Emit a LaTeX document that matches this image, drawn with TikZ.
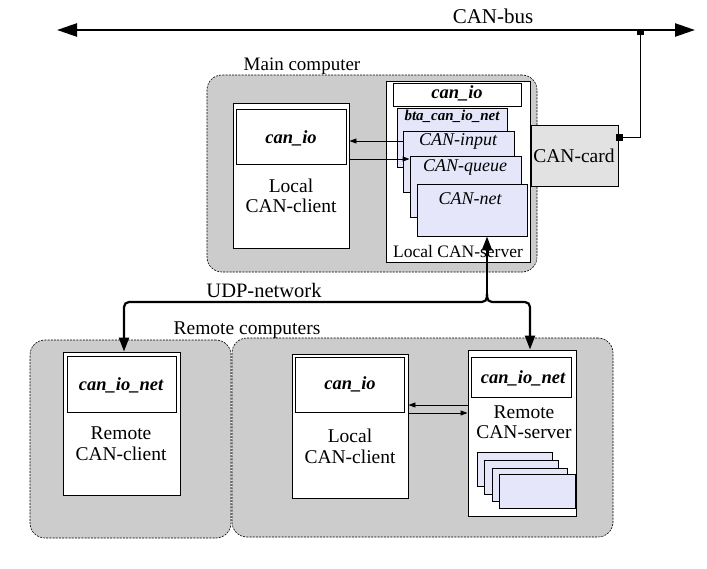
\documentclass[tikz,border=0pt]{standalone}
\usepackage{fontspec}
\setmainfont{Liberation Serif}
\usetikzlibrary{arrows.meta,fit}
\definecolor{lav}{RGB}{230,230,250}
\definecolor{compgray}{RGB}{204,204,204}
\definecolor{cardgray}{RGB}{226,226,226}
\begin{document}
\begin{tikzpicture}[x=1pt,y=-1pt,
  comp/.style={draw, line width=0.6pt, dash pattern=on 2pt off 1.2pt, fill=compgray, rounded corners=15pt, inner sep=0pt},
  box/.style={draw, line width=0.9pt, fill=white, inner sep=0pt},
  lavbox/.style={box, fill=lav},
  cardbox/.style={box, fill=cardgray},
  lbl/.style={inner sep=0pt, anchor=base, font=\fontsize{19.5}{22}\selectfont},
  mod/.style={lbl, font=\fontsize{18.5}{21}\selectfont\bfseries\itshape},
  smod/.style={lbl, font=\fontsize{15}{17}\selectfont\bfseries\itshape},
  sub/.style={lbl, font=\fontsize{18}{21}\selectfont\itshape},
  srv/.style={lbl, font=\fontsize{17.5}{20}\selectfont},
  busline/.style={line width=2.4pt, {Triangle[length=20pt,width=13pt]}-{Triangle[length=20pt,width=13pt]}},
  udp/.style={line width=2.2pt, rounded corners=5pt},
  udparrow/.style={-{Triangle[length=14pt,width=10pt]}},
  conn/.style={line width=0.9pt, -{Triangle[length=7pt,width=5pt]}},
  cardconn/.style={line width=0.9pt, {Square[length=6pt,width=7pt]}-{Square[length=6pt,width=7pt]}}
]
\useasboundingbox (0,0) rectangle (707,568);
\fill[white] (0,0) rectangle (707,568);

% CAN bus
\coordinate (busL) at (57,30);
\coordinate (busR) at (695,30);
\draw[busline] (busL) -- (busR);
\node[lbl, font=\fontsize{21}{24}\selectfont] (busLabel) at (493,23) {CAN-bus};

% Main computer
\node[comp, fit={(207,75) (537,272)}] (main) {};
\node[lbl, font=\fontsize{19}{22}\selectfont] (mainLabel) at (302,70) {Main computer};

\node[box, fit={(233,103) (349,248)}] (lc) {};
\node[box, fit={(236,109) (346,164)}] (lcio) {};
\node[mod] (lcioT) at (291,143) {can\_io};
\node[lbl] (lcT1) at (291,192) {Local};
\node[lbl] (lcT2) at (291,212) {CAN-client};

\node[box, fit={(386,81) (530,262)}] (ls) {};
\node[box, fit={(393,83) (521,106)}] (lsio) {};
\node[mod] (lsioT) at (457,98) {can\_io};
\node[lavbox, fit={(397,108) (507,167)}] (bta) {};
\node[smod] (btaT) at (452,120) {bta\_can\_io\_net};
\node[lavbox, fit={(403,131) (514,192)}] (canin) {};
\node[sub] (caninT) at (458,145) {CAN-input};
\node[lavbox, fit={(410,156) (521,217)}] (canq) {};
\node[sub] (canqT) at (465,171) {CAN-queue};
\node[lavbox, fit={(417,184) (527,236)}] (cannet) {};
\node[sub] (cannetT) at (470,204) {CAN-net};
\node[srv] (lsT) at (458,257) {Local CAN-server};

\node[cardbox, fit={(531,125) (618,186)}] (card) {};
\node[lbl] (cardT) at (574,162) {CAN-card};

% connectors in main computer
\coordinate (yA) at (0,141);
\coordinate (yB) at (0,159);
\draw[conn] (canin.west |- yA) -- (lc.east |- yA);
\draw[conn] (lc.east |- yB) -- (canq.west |- yB);

% card to bus
\coordinate (tapX) at (640,0);
\coordinate (yC) at (0,137);
\draw[cardconn] ([xshift=-2pt]card.east |- yC) -- (tapX |- yC) -- ([yshift=1pt]tapX |- busL);

% Remote computers
\node[comp, fit={(30,340) (231,538)}] (rem1) {};
\node[comp, fit={(232,338) (613,537)}] (rem2) {};
\node[lbl] (remLabel) at (247,334) {Remote computers};

\node[box, fit={(63,352) (180,495)}] (rc) {};
\node[box, fit={(67,356) (176,412)}] (rcio) {};
\node[mod] (rcioT) at (121,390) {can\_io\_net};
\node[lbl] (rcT1) at (121,439) {Remote};
\node[lbl] (rcT2) at (121,460) {CAN-client};

\node[box, fit={(292,354) (408,498)}] (lc2) {};
\node[box, fit={(295,357) (404,412)}] (lc2io) {};
\node[mod] (lc2ioT) at (350,389) {can\_io};
\node[lbl] (lc2T1) at (350,442) {Local};
\node[lbl] (lc2T2) at (350,463) {CAN-client};

\node[box, fit={(468,350) (576,516)}] (rs) {};
\node[box, fit={(471,357) (571,397)}] (rsio) {};
\node[mod] (rsioT) at (523,383) {can\_io\_net};
\node[lbl] (rsT1) at (524,418) {Remote};
\node[lbl] (rsT2) at (524,438) {CAN-server};
\node[lavbox, fit={(477,452) (552,486)}] (s1) {};
\node[lavbox, fit={(484,460) (558,494)}] (s2) {};
\node[lavbox, fit={(492,468) (567,501)}] (s3) {};
\node[lavbox, fit={(499,474) (575,508)}] (s4) {};

\coordinate (yD) at (0,405);
\coordinate (yE) at (0,413);
\draw[conn] (rs.west |- yD) -- (lc2.east |- yD);
\draw[conn] (lc2.east |- yE) -- (rs.west |- yE);

% UDP network
\node[lbl, font=\fontsize{20.5}{23}\selectfont] (udpLabel) at (264,297) {UDP-network};
\coordinate (jn) at (487,294);
\coordinate (udpY) at (0,302);
\coordinate (rcTop) at ([xshift=2.5pt]rc.north);
\coordinate (rsTop) at ([xshift=8pt]rs.north);
\draw[udp, udparrow] (jn) -- (jn |- cannet.south);
\draw[udp, udparrow] (jn) -- (jn |- udpY) -- (rcTop |- udpY) -- (rcTop);
\draw[udp, udparrow] (jn) -- (jn |- udpY) -- (rsTop |- udpY) -- (rsTop);
\end{tikzpicture}
\end{document}
